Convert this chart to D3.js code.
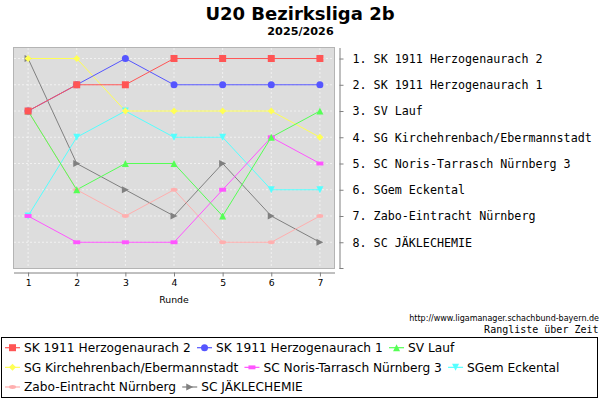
<!DOCTYPE html>
<html>
<head>
<meta charset="utf-8">
<script src="https://cdn.jsdelivr.net/npm/d3@7"></script>
<style>
html,body{margin:0;padding:0;background:#fff;}
svg{display:block;}
</style>
</head>
<body>
<svg id="chart" width="600" height="400"></svg>
<script>
const title = "U20 Bezirksliga 2b";
const subtitle = "2025/2026";
const rounds = [1, 2, 3, 4, 5, 6, 7];
const teams = [
  "SK 1911 Herzogenaurach 2",
  "SK 1911 Herzogenaurach 1",
  "SV Lauf",
  "SG Kirchehrenbach/Ebermannstadt",
  "SC Noris-Tarrasch Nürnberg 3",
  "SGem Eckental",
  "Zabo-Eintracht Nürnberg",
  "SC JÄKLECHEMIE"
];
const rankHerzo2   = [3, 2, 2, 1, 1, 1, 1];
const rankHerzo1   = [3, 2, 1, 2, 2, 2, 2];
const rankLauf     = [3, 6, 5, 5, 7, 4, 3];
const rankKirch    = [1, 1, 3, 3, 3, 3, 4];
const rankNoris    = [7, 8, 8, 8, 6, 4, 5];
const rankEckental = [7, 4, 3, 4, 4, 6, 6];
const rankZabo     = [3, 6, 7, 6, 8, 8, 7];
const rankJaekle   = [1, 5, 6, 7, 5, 7, 8];
const seriesRanks = [rankHerzo2, rankHerzo1, rankLauf, rankKirch, rankNoris, rankEckental, rankZabo, rankJaekle];
const finalOrder = ["1. SK 1911 Herzogenaurach 2", "2. SK 1911 Herzogenaurach 1", "3. SV Lauf",
  "4. SG Kirchehrenbach/Ebermannstadt", "5. SC Noris-Tarrasch Nürnberg 3", "6. SGem Eckental",
  "7. Zabo-Eintracht Nürnberg", "8. SC JÄKLECHEMIE"];
const rankTicks = [1, 2, 3, 4, 5, 6, 7, 8];
const xLabel = "Runde";
const sourceUrl = "http://www.ligamanager.schachbund-bayern.de";
const footnote = "Rangliste über Zeit";

const colors = ["#ff5555", "#5555ff", "#55ff55", "#ffff55", "#ff55ff", "#55ffff", "#ffafaf", "#808080"];
const shapes = ["square", "circle", "up", "diamond", "hrect", "down", "ellipse", "right"];

const svg = d3.select("#chart");
const plot = {left: 13.5, right: 334.5, top: 47.5, bottom: 268.5};

const x = d3.scaleLinear().domain([0.7, 7.3]).range([plot.left, plot.right]);
const y = d3.scaleLinear().domain([0.58, 9]).range([plot.top, plot.bottom]);

// Titles
svg.append("text").attr("x", 300).attr("y", 19.5).attr("text-anchor", "middle")
  .attr("font-family", "DejaVu Sans").attr("font-weight", "bold").attr("font-size", 18).text(title);
svg.append("text").attr("x", 300.5).attr("y", 35).attr("text-anchor", "middle")
  .attr("font-family", "DejaVu Sans").attr("font-weight", "bold").attr("font-size", 11.2).text(subtitle);

// Plot background
svg.append("rect").attr("x", plot.left).attr("y", plot.top)
  .attr("width", plot.right - plot.left).attr("height", plot.bottom - plot.top)
  .attr("fill", "#dddddd").attr("stroke", "#b4b4b4").attr("stroke-width", 1);

// Grid
const grid = svg.append("g").attr("stroke", "#ffffff").attr("stroke-width", 0.6).attr("stroke-dasharray", "2,2");
rounds.forEach(r => grid.append("line").attr("x1", x(r)).attr("x2", x(r)).attr("y1", plot.top + 0.5).attr("y2", plot.bottom - 0.5));
rankTicks.forEach(r => grid.append("line").attr("x1", plot.left + 0.5).attr("x2", plot.right - 0.5).attr("y1", y(r)).attr("y2", y(r)));

// X axis
const xAxis = d3.axisBottom(x).tickValues(rounds).tickFormat(d3.format("d")).tickSize(4).tickPadding(3).tickSizeOuter(0);
const gx = svg.append("g").attr("transform", "translate(0,272.5)").call(xAxis);
gx.select(".domain").attr("stroke", "#808080");
gx.selectAll(".tick line").attr("stroke", "#808080");
gx.selectAll(".tick text").attr("font-family", "DejaVu Sans").attr("font-size", 9.3).attr("fill", "#000");
svg.append("text").attr("x", (plot.left + plot.right) / 2).attr("y", 302.5).attr("text-anchor", "middle")
  .attr("font-family", "DejaVu Sans").attr("font-size", 9.3).text(xLabel);

// Right axis
const yAxis = d3.axisRight(y).tickValues(rankTicks).tickFormat(d => finalOrder[d - 1]).tickSize(4).tickPadding(9).tickSizeOuter(0);
const gy = svg.append("g").attr("transform", "translate(339.5,0)").call(yAxis);
gy.select(".domain").attr("stroke", "#808080");
gy.selectAll(".tick line").attr("stroke", "#808080");
gy.selectAll(".tick text").attr("font-family", "DejaVu Sans Mono").attr("font-size", 11.7).attr("fill", "#000");
gy.append("line").attr("x1", 0).attr("x2", 4).attr("y1", y.range()[1]).attr("y2", y.range()[1]).attr("stroke", "#808080");

// Shape paths
function shapePath(type, s) {
  const h = s / 2;
  switch (type) {
    case "square": return `M${-h},${-h}H${h}V${h}H${-h}Z`;
    case "circle": return `M${-h},0A${h},${h} 0 1,0 ${h},0A${h},${h} 0 1,0 ${-h},0Z`;
    case "up": return `M0,${-h}L${h},${h}L${-h},${h}Z`;
    case "diamond": return `M0,${-h}L${h},0L0,${h}L${-h},0Z`;
    case "hrect": return `M${-h},${-h / 2 - 0.2}H${h}V${h / 2 + 0.2}H${-h}Z`;
    case "down": return `M${-h},${-h}L${h},${-h}L0,${h}Z`;
    case "ellipse": return `M${-h},0A${h},${h / 2 + 0.2} 0 1,0 ${h},0A${h},${h / 2 + 0.2} 0 1,0 ${-h},0Z`;
    case "right": return `M${-h},${-h}L${h},0L${-h},${h}Z`;
  }
}

const line = d3.line().x((d, i) => x(rounds[i])).y(d => y(d));
const order = d3.range(seriesRanks.length).reverse();

const linesG = svg.append("g");
order.forEach(si => {
  linesG.append("path").datum(seriesRanks[si]).attr("d", line)
    .attr("fill", "none").attr("stroke", colors[si]).attr("stroke-width", 1);
});
const shapesG = svg.append("g");
order.forEach(si => {
  shapesG.selectAll(null).data(seriesRanks[si]).enter().append("path")
    .attr("transform", (d, i) => `translate(${x(rounds[i])},${y(d)})`)
    .attr("d", shapePath(shapes[si], 7)).attr("fill", colors[si]);
});

// Source + footnote
svg.append("text").attr("x", 599).attr("y", 321).attr("text-anchor", "end")
  .attr("font-family", "DejaVu Sans").attr("font-size", 8).text(sourceUrl);
svg.append("text").attr("x", 598.5).attr("y", 333.3).attr("text-anchor", "end")
  .attr("font-family", "DejaVu Sans Mono").attr("font-size", 10).text(footnote);

// Legend
const legendBox = {x: 1.5, y: 337.5, w: 596, h: 60};
svg.append("rect").attr("x", legendBox.x).attr("y", legendBox.y).attr("width", legendBox.w).attr("height", legendBox.h)
  .attr("fill", "#fff").attr("stroke", "#000").attr("stroke-width", 1);
const legendG = svg.append("g");
let lx = 5, row = 0;
const rowY = r => 347.7 + r * 19.65;
teams.forEach((t, i) => {
  const item = legendG.append("g");
  const txt = item.append("text").attr("x", 19).attr("y", 0).attr("dy", "0.36em")
    .attr("font-family", "DejaVu Sans").attr("font-size", 12.2).text(t);
  const w = 19 + txt.node().getComputedTextLength();
  if (lx + w > legendBox.x + legendBox.w - 3) { row++; lx = 5; }
  item.attr("transform", `translate(${lx},${rowY(row)})`);
  item.append("line").attr("x1", 0).attr("x2", 15).attr("y1", 0).attr("y2", 0).attr("stroke", colors[i]).attr("stroke-width", 1.2);
  item.append("path").attr("transform", "translate(7.5,0)").attr("d", shapePath(shapes[i], 7)).attr("fill", colors[i]);
  lx += w + 6.3;
});
</script>
</body>
</html>
